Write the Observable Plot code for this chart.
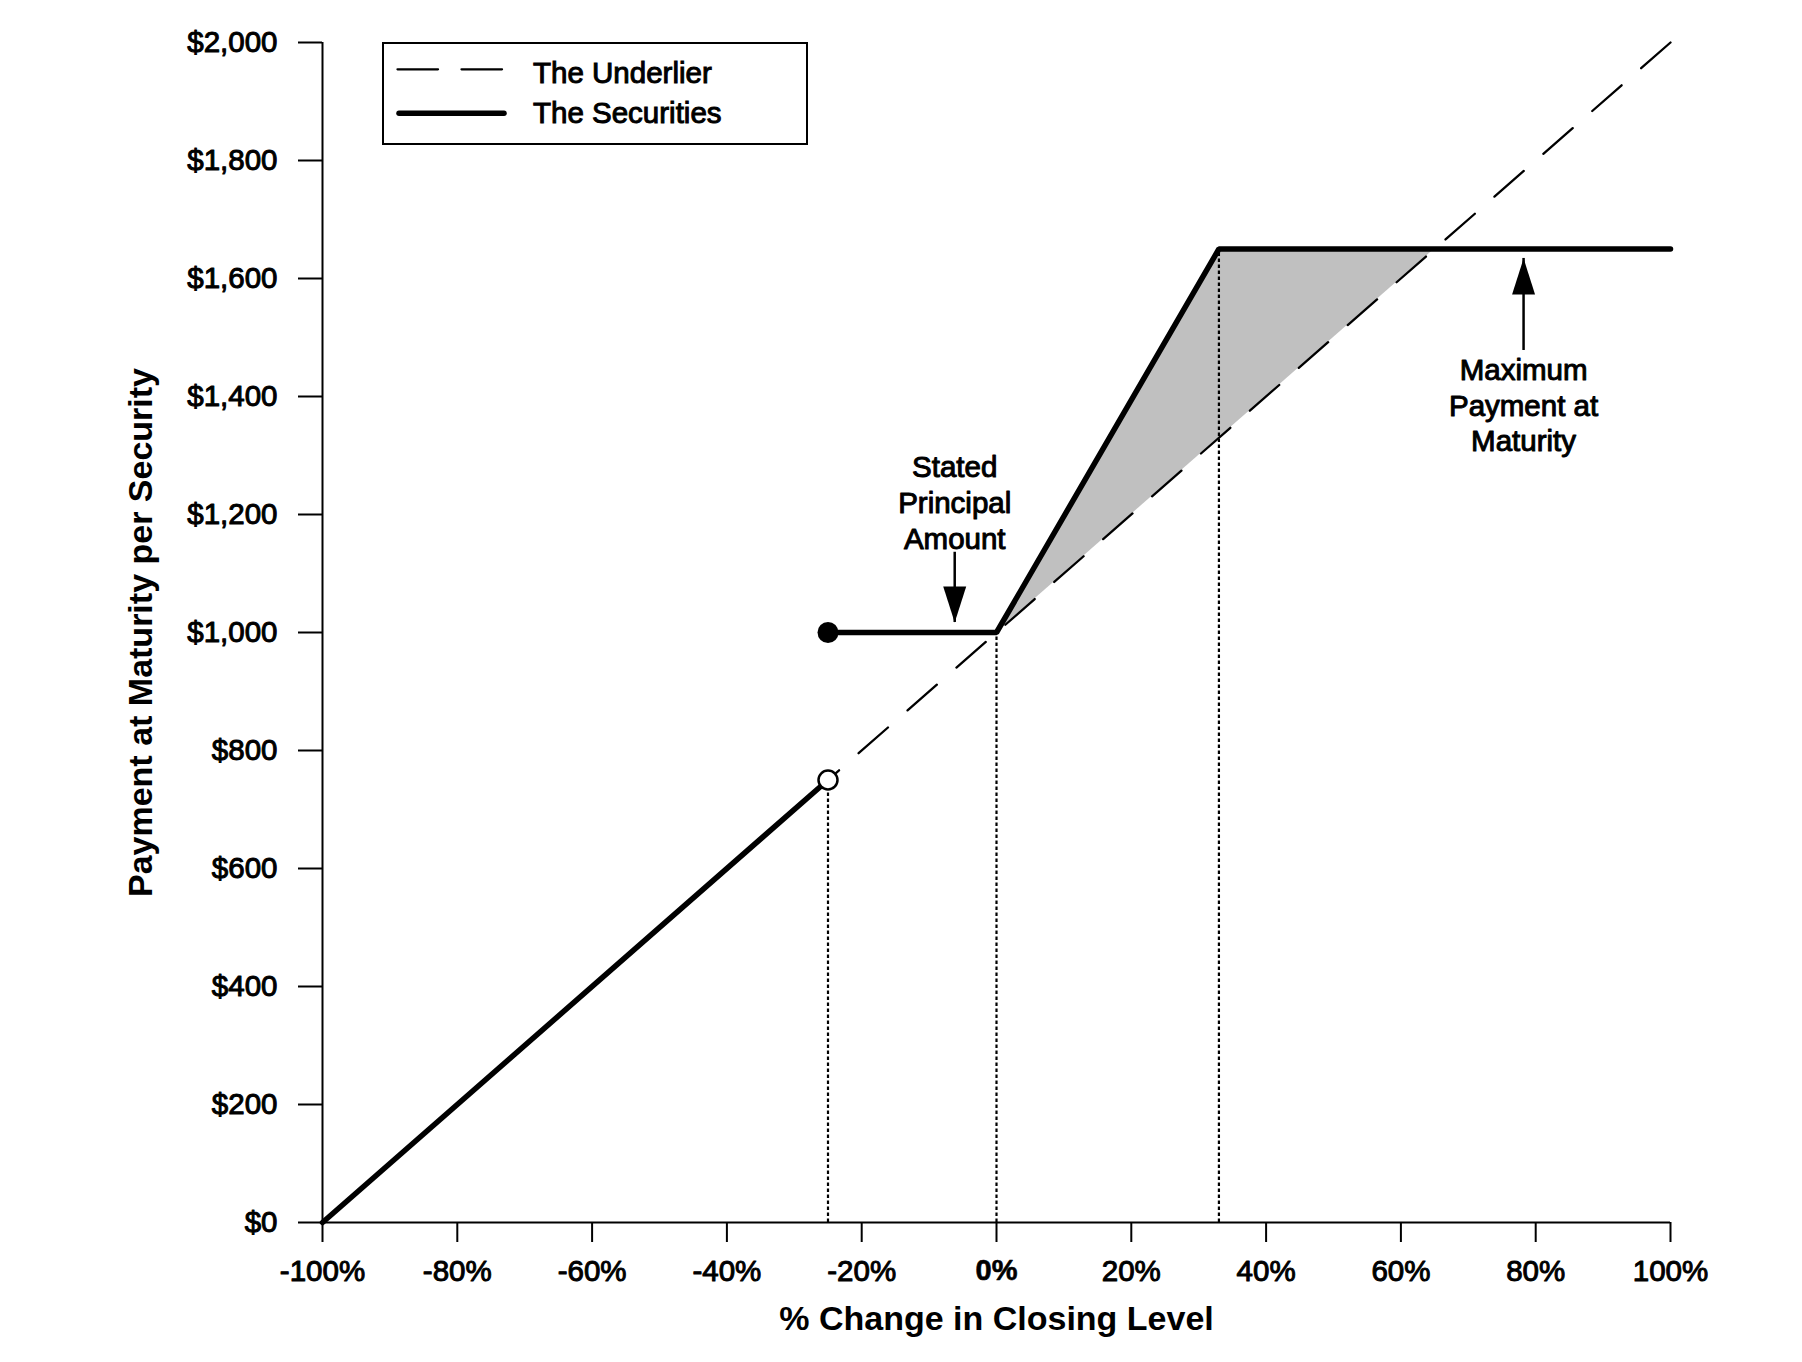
<!DOCTYPE html>
<html>
<head>
<meta charset="utf-8">
<script src="https://cdn.jsdelivr.net/npm/d3@7"></script>
<script src="https://cdn.jsdelivr.net/npm/@observablehq/plot@0.6"></script>
<style>
html, body { margin: 0; padding: 0; background: #fff; }
#wrap { position: relative; width: 1802px; height: 1362px; font-family: "Liberation Sans", Arial, sans-serif; }
#chart { position: absolute; left: 0; top: 0; }
#legend { position: absolute; left: 382px; top: 42px; }
</style>
</head>
<body>
<div id="wrap"><div id="chart"></div><svg id="legend" width="427" height="104"></svg></div>
<script>
// ---- axis ticks ----
const xTicks = [-100, -80, -60, -40, -20, 0, 20, 40, 60, 80, 100];
const xTickLabels = ["-100%", "-80%", "-60%", "-40%", "-20%", "0%", "20%", "40%", "60%", "80%", "100%"];
const yTicks = [0, 200, 400, 600, 800, 1000, 1200, 1400, 1600, 1800, 2000];
const yTickLabels = ["$0", "$200", "$400", "$600", "$800", "$1,000", "$1,200", "$1,400", "$1,600", "$1,800", "$2,000"];

// ---- series ----
// The Underlier (drawn from the top end so the dash pattern starts there)
const underlierX = [100, -100];
const underlierY = [2000, 0];
// The Securities: below the barrier
const securitiesLowX = [-100, -25];
const securitiesLowY = [0, 750];
// The Securities: at/above the barrier
const securitiesHighX = [-25, 0, 33, 100];
const securitiesHighY = [1000, 1000, 1650, 1650];
// shaded outperformance region
const shadeX = [0, 33, 65];
const shadeUnderlierY = [1000, 1330, 1650];
const shadeSecuritiesY = [1000, 1650, 1650];
// dotted reference lines
const guideX = [-25, 0, 33];
const guideTopY = [750, 1000, 1650];
// markers
const closedDotX = [-25];
const closedDotY = [1000];
const openDotX = [-25];
const openDotY = [750];
// annotations
const annotationTexts = ["Stated\nPrincipal\nAmount", "Maximum\nPayment at\nMaturity"];
const annotationX = [-6.2, 78.2];
const annotationTextY = [1222, 1387];
const annotationTailY = [1136, 1478];
const annotationTipY = [1017, 1634];

const xTitle = "% Change in Closing Level";
const yTitle = "Payment at Maturity per Security";
const legendLabels = ["The Underlier", "The Securities"];

// ---- tables ----
const zip = (xs, ys) => xs.map((x, i) => ({x, y: ys[i]}));
const underlier = zip(underlierX, underlierY);
const secLow = zip(securitiesLowX, securitiesLowY);
const secHigh = zip(securitiesHighX, securitiesHighY);
const shade = shadeX.map((x, i) => ({x, y1: shadeUnderlierY[i], y2: shadeSecuritiesY[i]}));
const guides = guideX.map((x, i) => ({x, top: guideTopY[i]}));
const annotations = annotationTexts.map((t, i) => ({text: t, x: annotationX[i], ty: annotationTextY[i], tail: annotationTailY[i], tip: annotationTipY[i]}));
const xLabelRows = xTicks.map((v, i) => ({v, label: xTickLabels[i]}));
const yLabelRows = yTicks.map((v, i) => ({v, label: yTickLabels[i]}));

const heavy = {fill: "black", stroke: "black", strokeWidth: 1.0};
const headDown = {draw(ctx) { ctx.moveTo(0, 0); ctx.lineTo(-11.5, -36); ctx.lineTo(11.5, -36); ctx.closePath(); }};
const headUp = {draw(ctx) { ctx.moveTo(0, 0); ctx.lineTo(-11.5, 36); ctx.lineTo(11.5, 36); ctx.closePath(); }};

const chart = Plot.plot({
  width: 1802,
  height: 1362,
  marginLeft: 322,
  marginRight: 132,
  marginTop: 42,
  marginBottom: 140,
  style: {fontFamily: '"Liberation Sans", Arial, sans-serif', background: "white", color: "black"},
  x: {domain: [-100, 100], axis: null},
  y: {domain: [0, 2000], axis: null},
  marks: [
    Plot.areaY(shade, {x: "x", y1: "y1", y2: "y2", fill: "#c0c0c0"}),
    Plot.ruleX(guides, {x: "x", y1: () => 0, y2: "top", stroke: "black", strokeWidth: 2.2, strokeDasharray: "3.5,2.5"}),
    Plot.line(underlier, {x: "x", y: "y", stroke: "black", strokeWidth: 2.3, strokeDasharray: "39,26", strokeLinecap: "round"}),
    Plot.line(secLow, {x: "x", y: "y", stroke: "black", strokeWidth: 5.5, strokeLinecap: "round"}),
    Plot.line(secHigh, {x: "x", y: "y", stroke: "black", strokeWidth: 5.5, strokeLinecap: "round", strokeLinejoin: "miter"}),
    Plot.dot(zip(closedDotX, closedDotY), {x: "x", y: "y", r: 10.5, fill: "black", stroke: "none"}),
    Plot.dot(zip(openDotX, openDotY), {x: "x", y: "y", r: 9.5, fill: "white", stroke: "black", strokeWidth: 2.5}),
    // axes
    Plot.ruleX([-100], {y1: () => 0, y2: () => 2000, stroke: "black", strokeWidth: 2}),
    Plot.ruleY([0], {x1: () => -100, x2: () => 100, stroke: "black", strokeWidth: 2}),
    Plot.axisY(yTicks, {anchor: "left", tickSize: 24, tickFormat: () => "", strokeWidth: 2, label: null}),
    Plot.axisX(xTicks, {anchor: "bottom", tickSize: 20, tickFormat: () => "", strokeWidth: 2, label: null}),
    Plot.text(yLabelRows, {y: "v", text: "label", frameAnchor: "left", dx: -45, textAnchor: "end", lineAnchor: "middle", fontSize: 29.5, ...heavy}),
    Plot.text(xLabelRows.filter(d => d.v !== 0), {x: "v", text: "label", frameAnchor: "bottom", dy: 48.6, textAnchor: "middle", lineAnchor: "middle", fontSize: 29.5, ...heavy}),
    Plot.text(xLabelRows.filter(d => d.v === 0), {x: "v", text: "label", frameAnchor: "bottom", dy: 48.6, textAnchor: "middle", lineAnchor: "middle", fontSize: 29, fontWeight: "bold", fill: "black", stroke: "black", strokeWidth: 0.6}),
    // titles
    Plot.text([xTitle], {frameAnchor: "bottom", dy: 96.7, textAnchor: "middle", lineAnchor: "middle", fontSize: 34, fontWeight: "bold", fill: "black"}),
    Plot.text([yTitle], {frameAnchor: "left", dx: -181, rotate: -90, textAnchor: "middle", lineAnchor: "middle", fontSize: 34, fontWeight: "bold", fill: "black"}),
    // annotations
    Plot.text(annotations, {x: "x", y: "ty", text: "text", textAnchor: "middle", lineAnchor: "middle", lineHeight: 1.207, fontSize: 29.5, ...heavy}),
    Plot.ruleX(annotations, {x: "x", y1: "tail", y2: "tip", stroke: "black", strokeWidth: 2.5}),
    Plot.dot(annotations.slice(0, 1), {x: "x", y: "tip", symbol: headDown, fill: "black", stroke: "none"}),
    Plot.dot(annotations.slice(1, 2), {x: "x", y: "tip", symbol: headUp, fill: "black", stroke: "none"})
  ]
});
document.getElementById("chart").appendChild(chart);

// ---- legend (inside the plot frame, top-left) ----
const lg = d3.select("#legend");
lg.append("rect").attr("x", 1).attr("y", 1).attr("width", 424).attr("height", 101)
  .attr("fill", "white").attr("stroke", "black").attr("stroke-width", 2);
lg.append("line").attr("x1", 15.5).attr("x2", 120.5).attr("y1", 27.3).attr("y2", 27.3)
  .attr("stroke", "black").attr("stroke-width", 2.3).attr("stroke-dasharray", "40.5,23.5").attr("stroke-linecap", "round");
lg.append("line").attr("x1", 17).attr("x2", 122).attr("y1", 71.3).attr("y2", 71.3)
  .attr("stroke", "black").attr("stroke-width", 5.5).attr("stroke-linecap", "round");
lg.selectAll("text.lab").data(legendLabels).join("text")
  .attr("x", 151).attr("y", (d, i) => i === 0 ? 41.3 : 80.6)
  .attr("font-family", '"Liberation Sans", Arial, sans-serif').attr("font-size", 29.5)
  .attr("fill", "black").attr("stroke", "black").attr("stroke-width", 1.0)
  .text(d => d);
</script>
</body>
</html>
